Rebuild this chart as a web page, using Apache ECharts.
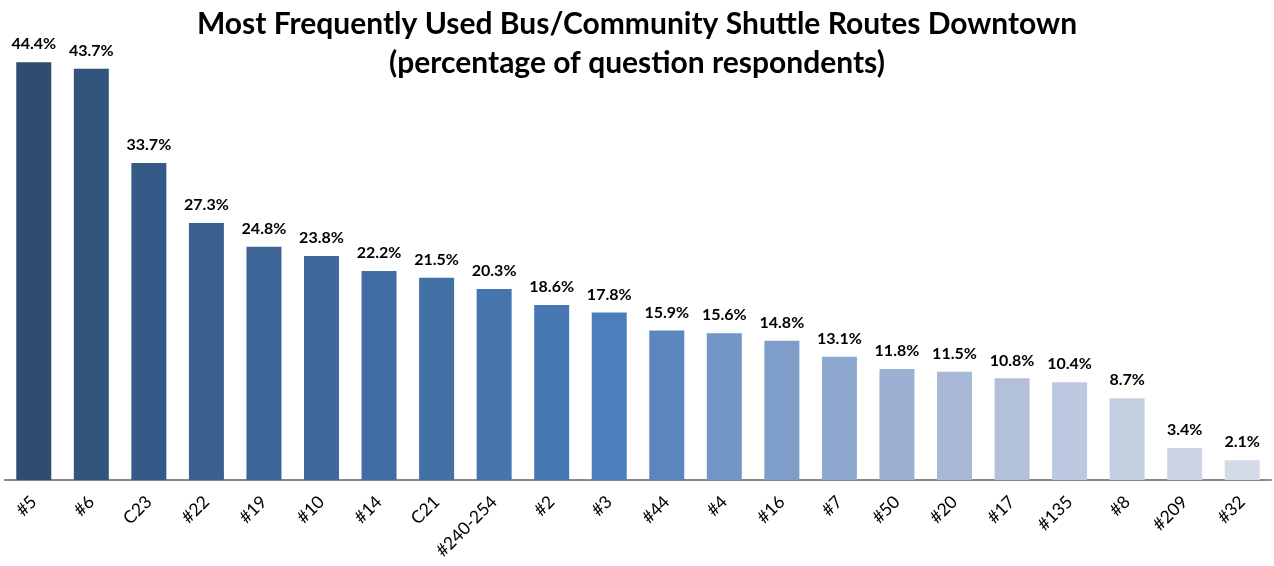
<!DOCTYPE html>
<html>
<head>
<meta charset="utf-8">
<script src="https://cdn.jsdelivr.net/npm/echarts@6/dist/echarts.min.js"></script>
<style>
html,body{margin:0;padding:0;background:#fff;}
#chart{width:1274px;height:566px;}
</style>
</head>
<body>
<div id="chart"></div>
<script>
const categories = ['#5','#6','C23','#22','#19','#10','#14','C21','#240-254','#2','#3','#44','#4','#16','#7','#50','#20','#17','#135','#8','#209','#32'];
const values = [44.4,43.7,33.7,27.3,24.8,23.8,22.2,21.5,20.3,18.6,17.8,15.9,15.6,14.8,13.1,11.8,11.5,10.8,10.4,8.7,3.4,2.1];
const barColors = ['#2F4D71','#32557E','#355A88','#3A6090','#3C6496','#3F699C','#416EA2','#4371A6','#4675AE','#4878B3','#4C7EBB','#5B86BE','#7195C5','#7F9DC9','#8DA7CE','#9BB0D3','#A8B9D7','#B2C0DB','#BCC8DF','#C4CFE2','#CBD4E5','#D3DAE8'];
const titleLines = ['Most Frequently Used Bus/Community Shuttle Routes Downtown','(percentage of question respondents)'];

const font = 'Lato, "Open Sans", sans-serif';
const chart = echarts.init(document.getElementById('chart'));
chart.setOption({
  animation: false,
  title: {
    text: titleLines.join('\n'),
    left: 'center',
    top: 0,
    textStyle: {fontFamily: font, fontWeight: 'bold', fontSize: 30, lineHeight: 39, color: '#000'}
  },
  grid: {left: 5, right: 3, top: 9.5, bottom: 86, containLabel: false},
  xAxis: {
    type: 'category',
    data: categories,
    axisLine: {lineStyle: {color: '#888888', width: 2}},
    axisTick: {show: false},
    axisLabel: {rotate: 45, fontFamily: font, fontSize: 17.5, color: '#000', margin: 19, interval: 0}
  },
  yAxis: {
    type: 'value', min: 0, max: 50, show: false,
    splitLine: {show: false}
  },
  series: [{
    type: 'bar',
    data: values.map((v, i) => ({value: v, itemStyle: {color: barColors[i]}})),
    barWidth: 35,
    label: {
      show: true, position: 'top', distance: 10,
      formatter: p => p.value.toFixed(1) + '%',
      fontFamily: font, fontWeight: 'bold', fontSize: 16, color: '#000'
    }
  }]
});
</script>
</body>
</html>
